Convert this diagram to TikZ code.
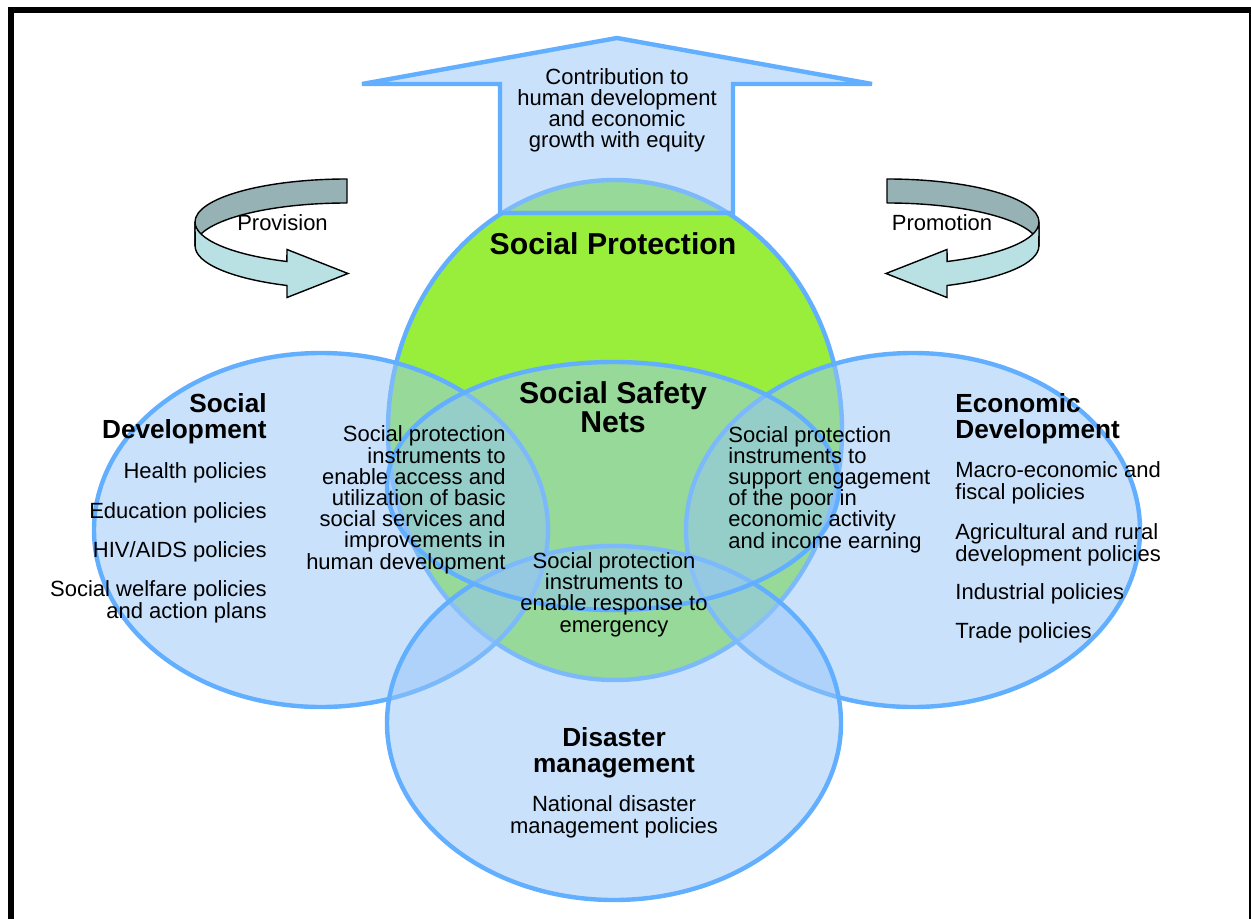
\documentclass[tikz,border=0pt]{standalone}
\usepackage{fontspec}
\setmainfont{Liberation Sans}
\definecolor{lineblue}{RGB}{98,174,255}
\definecolor{fillblue}{RGB}{149,197,249}
\definecolor{spgreen}{RGB}{152,238,58}
\definecolor{ribbongray}{RGB}{150,178,180}
\definecolor{ribboncyan}{RGB}{185,224,227}
\tikzset{
  venn/.style={draw=lineblue, line width=2.2pt, fill=fillblue, fill opacity=0.5},
  spcircle/.style={draw=lineblue, line width=2.2pt, fill=spgreen},
  bigarrow/.style={draw=lineblue, line width=2.2pt, fill=fillblue, fill opacity=0.5, line join=miter},
  ribbonback/.style={draw=black, line width=0.7pt, fill=ribbongray, line join=round},
  ribbonfront/.style={draw=black, line width=0.7pt, fill=ribboncyan, line join=miter},
  body/.style={font=\fontsize{11}{10.6}\selectfont, inner sep=0pt, text=black},
  head/.style={font=\fontsize{13.1}{12.7}\selectfont\bfseries, inner sep=0pt, text=black},
  bighead/.style={font=\fontsize{15.1}{14.5}\selectfont\bfseries, inner sep=0pt, text=black},
  frame/.style={draw=black, line width=3pt}
}
\begin{document}
\begin{tikzpicture}[x=0.5pt,y=-0.5pt]
\useasboundingbox (0,0) rectangle (1251,919);
\clip (0,0) rectangle (1251,919);
\fill[white] (0,0) rectangle (1251,919);

% Social Protection circle
\draw[spcircle] (615,430) ellipse [x radius=227, y radius=250];

% Up arrow
\draw[bigarrow] (500,213) -- (500,84) -- (362,84) -- (617,38) -- (872,84) -- (733,84) -- (733,213) -- cycle;

% Venn ellipses
\draw[venn] (321,530) ellipse [x radius=227, y radius=177];
\draw[venn] (913,530) ellipse [x radius=227, y radius=177];
\draw[venn] (614,723) ellipse [x radius=227, y radius=177];
\draw[venn] (613,486) ellipse [x radius=226, y radius=124];

% Provision ribbon (left)
\filldraw[ribbonback] (347,179) arc[start angle=270, end angle=180, x radius=152, y radius=43]
  -- (195,246) arc[start angle=180, end angle=270, x radius=152, y radius=43] -- cycle;
\filldraw[ribbonfront] (195,222) arc[start angle=180, end angle=113.3, x radius=152, y radius=43]
  -- (287,249.5) -- (348,273.5) -- (287,297.5) -- (287,285.5)
  arc[start angle=113.3, end angle=180, x radius=152, y radius=43] -- cycle;

% Promotion ribbon (right, mirrored)
\begin{scope}[shift={(1234,0)}, xscale=-1]
\filldraw[ribbonback] (347,179) arc[start angle=270, end angle=180, x radius=152, y radius=43]
  -- (195,246) arc[start angle=180, end angle=270, x radius=152, y radius=43] -- cycle;
\filldraw[ribbonfront] (195,222) arc[start angle=180, end angle=113.3, x radius=152, y radius=43]
  -- (287,249.5) -- (348,273.5) -- (287,297.5) -- (287,285.5)
  arc[start angle=113.3, end angle=180, x radius=152, y radius=43] -- cycle;
\end{scope}

% Texts (multi-line nodes: base = baseline of the last line)
\node[body, anchor=base] (provision) at (282.5,231) {Provision};
\node[body, anchor=base] (promotion) at (942,231) {Promotion};

\node[body, align=center, anchor=base] (contrib) at (617,148)
  {Contribution to\\human development\\and economic\\growth with equity};

\node[bighead, anchor=base] (sp) at (613,255) {Social Protection};
\node[bighead, align=center, anchor=base] (ssn) at (613,432) {Social Safety\\Nets};

\node[head, align=right, anchor=base east] (sdhead) at (267,438) {Social\\Development};
\node[body, anchor=base east] (sd1) at (267,478) {Health policies};
\node[body, anchor=base east] (sd2) at (267,518) {Education policies};
\node[body, anchor=base east] (sd3) at (267,557) {HIV/AIDS policies};
\node[body, align=right, anchor=base east] (sd4) at (267,618) {Social welfare policies\\and action plans};

\node[head, align=left, anchor=base west] (edhead) at (955,438) {Economic\\Development};
\node[body, align=left, anchor=base west] (ed1) at (955,499) {Macro-economic and\\fiscal policies};
\node[body, align=left, anchor=base west] (ed2) at (955,561) {Agricultural and rural\\development policies};
\node[body, anchor=base west] (ed3) at (955,599) {Industrial policies};
\node[body, anchor=base west] (ed4) at (955,638) {Trade policies};

\node[body, align=right, anchor=base east] (spleft) at (506,569)
  {Social protection\\instruments to\\enable access and\\utilization of basic\\social services and\\improvements in\\human development};
\node[body, align=left, anchor=base west] (spright) at (728,548)
  {Social protection\\instruments to\\support engagement\\of the poor in\\economic activity\\and income earning};
\node[body, align=center, anchor=base] (spcenter) at (614,632)
  {Social protection\\instruments to\\enable response to\\emergency};

\node[head, align=center, anchor=base] (dmhead) at (614,772) {Disaster\\management};
\node[body, align=center, anchor=base] (dmbody) at (614,833) {National disaster\\management policies};

% Frame
\draw[frame] (11,1000) -- (11,10) -- (1252,10) -- (1252,1000);
\end{tikzpicture}
\end{document}
